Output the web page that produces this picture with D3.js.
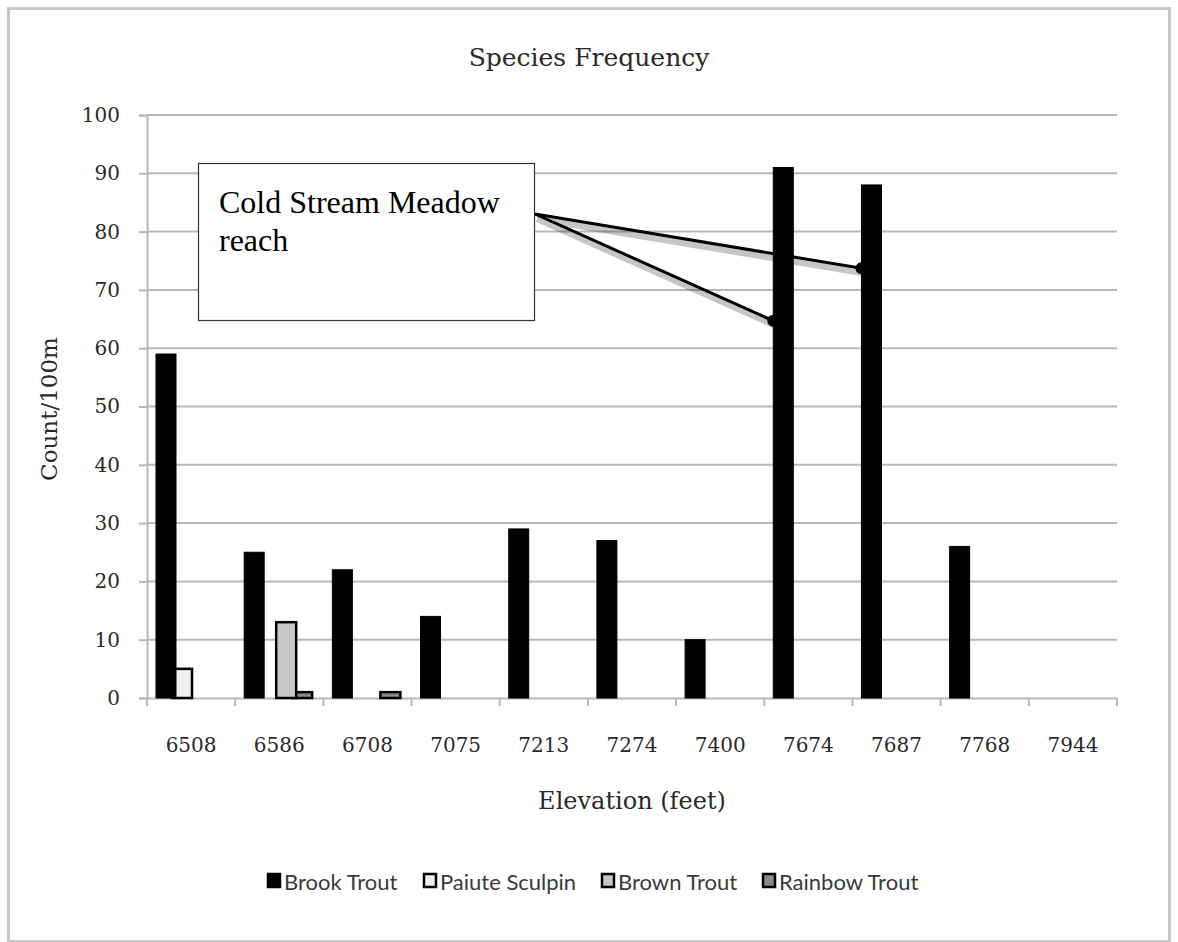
<!DOCTYPE html>
<html>
<head>
<meta charset="utf-8">
<script src="https://cdn.jsdelivr.net/npm/d3@7"></script>
<style>
  body { margin: 0; background: #fff; }
  text { font-family: "DejaVu Serif", serif; }
</style>
</head>
<body>
<div id="container"></div>
<script>
/* DATA */
const elevations = ["6508", "6586", "6708", "7075", "7213", "7274", "7400", "7674", "7687", "7768", "7944"];
const seriesNames = ["Brook Trout", "Paiute Sculpin", "Brown Trout", "Rainbow Trout"];
const brookTrout = [59, 25, 22, 14, 29, 27, 10, 91, 88, 26, 0];
const paiuteSculpin = [5, 0, 0, 0, 0, 0, 0, 0, 0, 0, 0];
const brownTrout = [0, 13, 0, 0, 0, 0, 0, 0, 0, 0, 0];
const rainbowTrout = [0, 1, 1, 0, 0, 0, 0, 0, 0, 0, 0];
const yTicks = [0, 10, 20, 30, 40, 50, 60, 70, 80, 90, 100];
const calloutTargets = [{ cat: "7674", value: 64.7 }, { cat: "7687", value: 73.7 }];

/* CONSTANTS */
const width = 1178, height = 942;
const plotLeft = 147, plotRight = 1117, plotTop = 115, plotBottom = 698;
const fills = ["#000", "#efefef", "#c8c8c8", "#8a8a8a"];
const seriesData = [brookTrout, paiuteSculpin, brownTrout, rainbowTrout];

const svg = d3.select("#container").append("svg")
  .attr("width", width).attr("height", height);

// outer frame
svg.append("rect")
  .attr("x", 8.5).attr("y", 8.5).attr("width", 1161).attr("height", 933)
  .attr("fill", "#fff").attr("stroke", "#c8c8c8").attr("stroke-width", 3);

/* SCALES */
const xScale = d3.scaleBand().domain(elevations).range([plotLeft, plotRight]);
const yScale = d3.scaleLinear().domain([0, 100]).range([plotBottom, plotTop]);
const inner = d3.scaleLinear().domain([0, 3]).range([9, 57]); // bar offset inside category
const barW = 20;

// gridlines
svg.append("g").selectAll("line").data(yTicks.slice(1)).join("line")
  .attr("x1", plotLeft).attr("x2", plotRight)
  .attr("y1", d => yScale(d)).attr("y2", d => yScale(d))
  .attr("stroke", "#b8b8b8").attr("stroke-width", 2);

// y axis
const yAxis = svg.append("g").attr("transform", `translate(${plotLeft},0)`)
  .call(d3.axisLeft(yScale).tickValues(yTicks).tickSize(8).tickPadding(19));
yAxis.select(".domain").attr("stroke", "#b8b8b8").attr("stroke-width", 2);
yAxis.selectAll(".tick line").attr("stroke", "#b8b8b8").attr("stroke-width", 2);
yAxis.selectAll(".tick text").attr("font-family", "DejaVu Serif").attr("font-size", 20).attr("fill", "#2a2a2a");

// x axis
const xAxis = svg.append("g").attr("transform", `translate(0,${plotBottom})`)
  .call(d3.axisBottom(xScale).tickSize(0).tickPadding(40));
xAxis.select(".domain").attr("stroke", "#b8b8b8").attr("stroke-width", 2);
xAxis.selectAll(".tick text").attr("font-family", "DejaVu Serif").attr("font-size", 20).attr("fill", "#2a2a2a");
svg.append("g").selectAll("line").data(elevations.concat(["end"])).join("line")
  .attr("x1", (d, i) => plotLeft + i * xScale.bandwidth())
  .attr("x2", (d, i) => plotLeft + i * xScale.bandwidth())
  .attr("y1", plotBottom).attr("y2", plotBottom + 8)
  .attr("stroke", "#b8b8b8").attr("stroke-width", 2);

// bars (earlier series drawn on top)
const barData = [];
seriesData.forEach((vals, s) => vals.forEach((v, i) => {
  if (v > 0) barData.push({ s, cat: elevations[i], v });
}));
barData.sort((a, b) => b.s - a.s);
svg.append("g").selectAll("rect").data(barData).join("rect")
  .attr("x", d => xScale(d.cat) + inner(d.s))
  .attr("width", barW)
  .attr("y", d => yScale(d.v))
  .attr("height", d => plotBottom - yScale(d.v))
  .attr("fill", d => fills[d.s])
  .attr("stroke", "#000").attr("stroke-width", d => d.s === 0 ? 1 : 2.5);

/* TITLES */
svg.append("text").attr("x", 589).attr("y", 66).attr("text-anchor", "middle")
  .attr("font-size", 25).attr("fill", "#2a2a2a").text("Species Frequency");
svg.append("text").attr("x", 632).attr("y", 809).attr("text-anchor", "middle")
  .attr("font-size", 24).attr("fill", "#2a2a2a").text("Elevation (feet)");
svg.append("text").attr("transform", "translate(57,409) rotate(-90)").attr("text-anchor", "middle")
  .attr("font-size", 23).attr("fill", "#2a2a2a").text("Count/100m");

/* LEGEND */
const legendX = [267, 423, 601, 762];
const legend = svg.append("g").selectAll("g").data(seriesNames).join("g")
  .attr("transform", (d, i) => `translate(${legendX[i]},874)`);
legend.append("rect").attr("x", 1).attr("y", 0).attr("width", 12).attr("height", 13)
  .attr("fill", (d, i) => fills[i]).attr("stroke", "#000").attr("stroke-width", 2.5);
legend.append("text").attr("x", 17).attr("y", 16)
  .style("font-family", "Lato, sans-serif").attr("font-size", 22).attr("fill", "#3a3a3a")
  .text(d => d);

/* CALLOUT */
const anchor = { x: 535, y: 214 };
const targets = calloutTargets.map(t => ({ x: xScale(t.cat) + inner(0), y: yScale(t.value) }));
const shadow = svg.append("g").attr("opacity", 0.22).attr("transform", "translate(2,5)");
targets.forEach(t => shadow.append("line").attr("x1", anchor.x).attr("y1", anchor.y)
  .attr("x2", t.x).attr("y2", t.y).attr("stroke", "#000").attr("stroke-width", 6));
targets.forEach(t => {
  svg.append("line").attr("x1", anchor.x).attr("y1", anchor.y)
    .attr("x2", t.x).attr("y2", t.y).attr("stroke", "#000").attr("stroke-width", 3);
  svg.append("circle").attr("cx", t.x).attr("cy", t.y).attr("r", 6).attr("fill", "#000");
});
svg.append("rect").attr("x", 198.5).attr("y", 163.5).attr("width", 336).attr("height", 157)
  .attr("fill", "#fff").attr("stroke", "#333").attr("stroke-width", 1.2);
const note = svg.append("text").style("font-family", "Liberation Serif, serif")
  .attr("font-size", 32).attr("fill", "#000");
note.append("tspan").attr("x", 219).attr("y", 213).text("Cold Stream Meadow");
note.append("tspan").attr("x", 219).attr("y", 251).text("reach");
</script>
</body>
</html>
